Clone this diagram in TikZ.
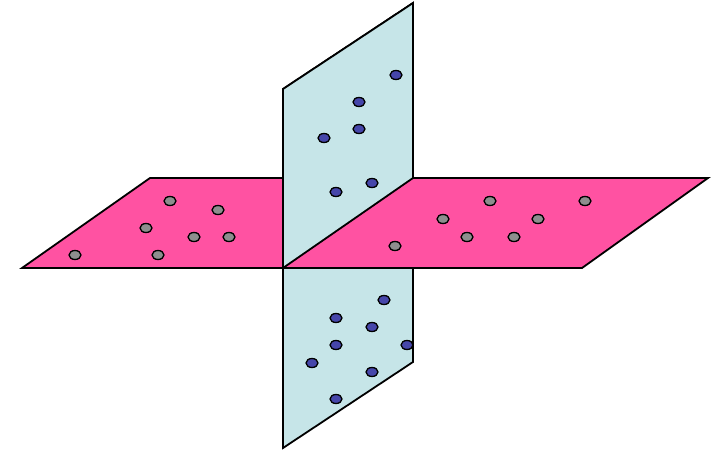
\documentclass[tikz,border=0pt]{standalone}
\usepackage{xcolor}
\usepackage{tikz}
\definecolor{planepink}{HTML}{FF52A2}
\definecolor{planeblue}{HTML}{C6E5E8}
\definecolor{dotblue}{HTML}{4646AA}
\definecolor{dotgray}{HTML}{8E8E8E}

\begin{document}
\begin{tikzpicture}[
  x=1pt, y=-1pt,
  plane/.style={draw=black, line width=1.8pt, line join=miter},
  pinkplane/.style={plane, fill=planepink},
  blueplane/.style={plane, fill=planeblue},
  bluedot/.style={draw=black, line width=1.3pt, fill=dotblue},
  graydot/.style={draw=black, line width=1.3pt, fill=dotgray}
]
  \useasboundingbox (0,0) rectangle (718,452);

  % Vertical plane (back)
  \draw[blueplane] (283,89) -- (413,3) -- (413,362) -- (283,448) -- cycle;

  % Horizontal plane
  \draw[pinkplane] (22,268) -- (150,178) -- (708,178) -- (582,268) -- cycle;

  % Upper half of the vertical plane, in front of the back of the horizontal plane
  \draw[blueplane] (283,268) -- (283,89) -- (413,3) -- (413,178) -- cycle;

  % Points on the horizontal plane
  \foreach \px/\py in {170/201, 218/210, 146/228, 194/237, 229/237, 75/255, 158/255,
                       490/201, 585/201, 443/219, 538/219, 467/237, 514/237, 395/246}
    \draw[graydot] (\px,\py) ellipse [x radius=6, y radius=4.5];

  % Points on the vertical plane
  \foreach \px/\py in {396/75, 359/102, 359/129, 324/138, 372/183, 336/192,
                       384/300, 336/318, 372/327, 336/345, 407/345, 312/363,
                       372/372, 336/399}
    \draw[bluedot] (\px,\py) ellipse [x radius=6, y radius=4.5];
\end{tikzpicture}
\end{document}
